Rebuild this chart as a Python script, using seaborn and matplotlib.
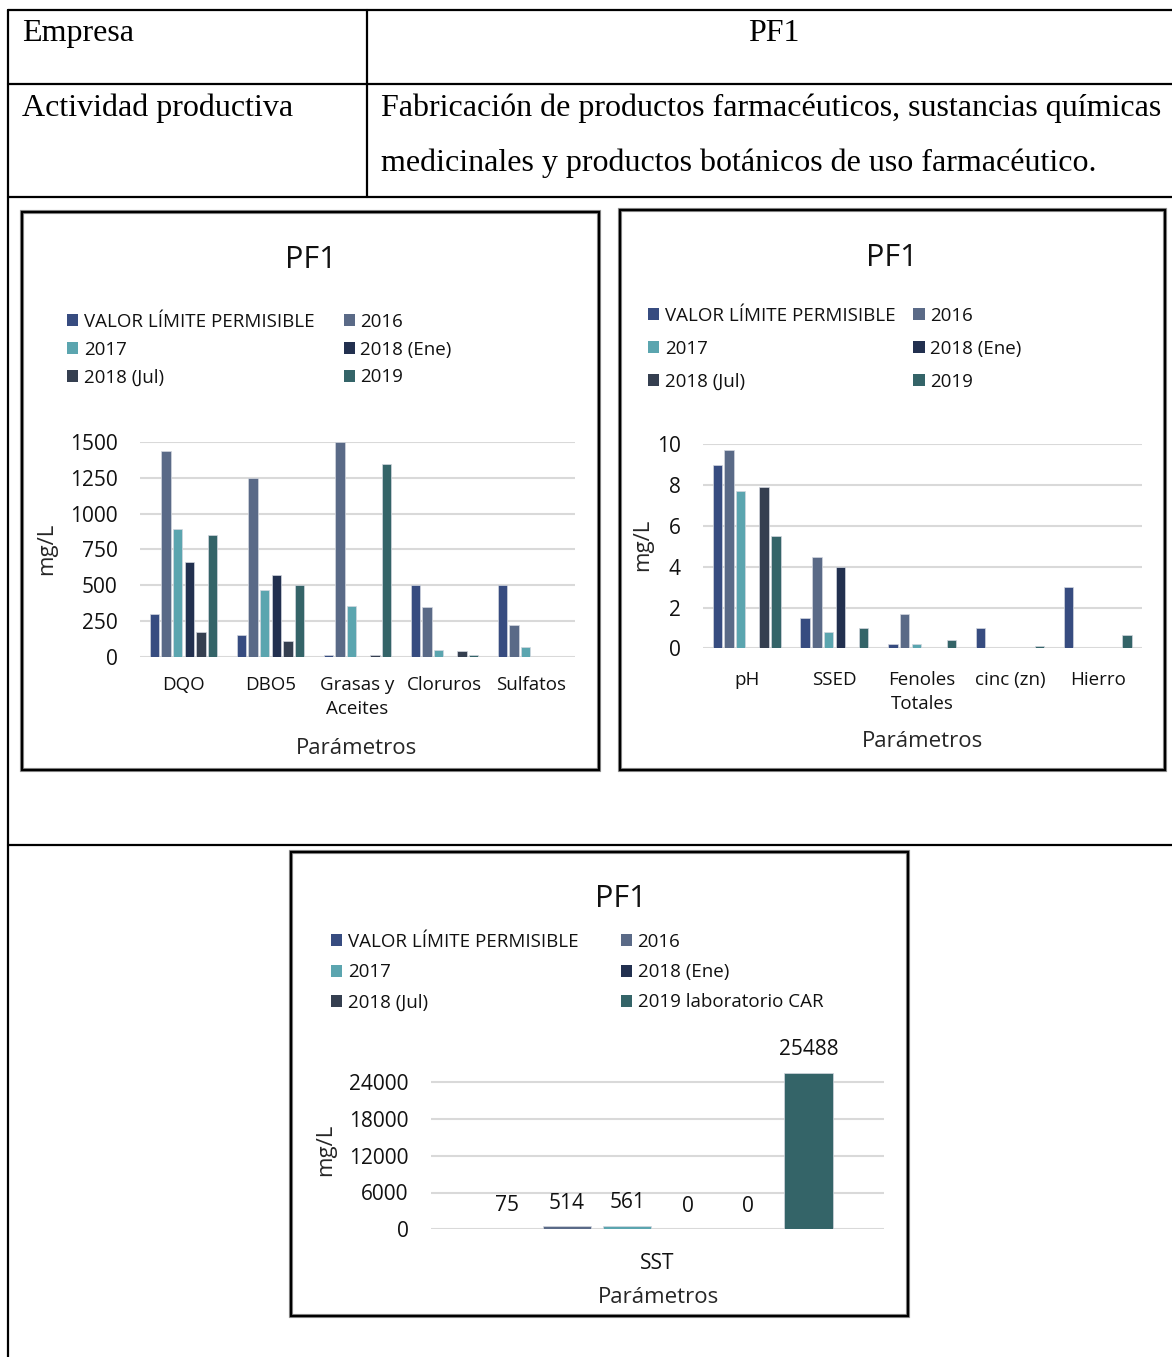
import numpy as np
import pandas as pd
import matplotlib
matplotlib.use("Agg")
import matplotlib.pyplot as plt
from matplotlib.patches import Rectangle, Patch
from matplotlib.lines import Line2D
import seaborn as sns

# ---------------- data ----------------
series = ["VALOR LÍMITE PERMISIBLE", "2016", "2017", "2018 (Ene)", "2018 (Jul)", "2019"]
series_sst = ["VALOR LÍMITE PERMISIBLE", "2016", "2017", "2018 (Ene)", "2018 (Jul)",
              "2019 laboratorio CAR"]
colors = ["#374C80", "#5A6A87", "#5BA5AF", "#22304F", "#353F50", "#346468"]

params_a = ["DQO", "DBO5", "Grasas y\nAceites", "Cloruros", "Sulfatos"]
vlp_a = [300, 150, 10, 500, 500]
y2016_a = [1437, 1250, 1500, 348, 222]
y2017_a = [890, 467, 352, 49, 68]
ene2018_a = [665, 569, 0, 0, 0]
jul2018_a = [170, 107, 10, 37, 0]
y2019_a = [849, 504, 1349, 12, 0]

params_b = ["pH", "SSED", "Fenoles\nTotales", "cinc (zn)", "Hierro"]
vlp_b = [9.0, 1.5, 0.2, 1.0, 3.0]
y2016_b = [9.7, 4.5, 1.7, 0, 0]
y2017_b = [7.7, 0.8, 0.2, 0, 0]
ene2018_b = [0, 4.0, 0, 0, 0]
jul2018_b = [7.9, 0, 0, 0, 0]
y2019_b = [5.5, 1.0, 0.4, 0.1, 0.65]

params_c = ["SST"]
sst_vals = [75, 514, 561, 0, 0, 25488]

yticks_a = [0, 250, 500, 750, 1000, 1250, 1500]
yticks_b = [0, 2, 4, 6, 8, 10]
yticks_c = [0, 6000, 12000, 18000, 24000]


def long_table(params, names, columns):
    rows = []
    for name, vals in zip(names, columns):
        for p, v in zip(params, vals):
            rows.append({"param": p, "serie": name, "valor": v})
    return pd.DataFrame(rows)


df_a = long_table(params_a, series, [vlp_a, y2016_a, y2017_a, ene2018_a, jul2018_a, y2019_a])
df_b = long_table(params_b, series, [vlp_b, y2016_b, y2017_b, ene2018_b, jul2018_b, y2019_b])
df_c = long_table(params_c, series_sst, [[v] for v in sst_vals])

# ---------------- style ----------------
sns.set_style("white")
plt.rcParams["font.family"] = ["Open Sans", "DejaVu Sans"]
plt.rcParams["text.color"] = "#111111"
plt.rcParams["xtick.color"] = "#111111"
plt.rcParams["ytick.color"] = "#111111"

W, H = 1172, 1357
fig = plt.figure(figsize=(W / 100, H / 100), dpi=100)


def fx(px):
    return px / W


def fy(py):
    return 1 - py / H


def hline(x0, x1, y, lw=1.6):
    fig.add_artist(Line2D([fx(x0), fx(x1)], [fy(y), fy(y)], color="black", lw=lw,
                          transform=fig.transFigure))


def vline(x, y0, y1, lw=1.6):
    fig.add_artist(Line2D([fx(x), fx(x)], [fy(y0), fy(y1)], color="black", lw=lw,
                          transform=fig.transFigure))


def frame(x0, y0, x1, y1):
    for lw, col in [(3.0, "#9a9a9a"), (1.7, "black")]:
        fig.add_artist(Rectangle((fx(x0), fy(y1)), fx(x1) - fx(x0), fy(y0) - fy(y1),
                                 transform=fig.transFigure, fill=False, ec=col, lw=lw))


# ---------------- table ----------------
hline(8, 1172, 10)
hline(8, 1172, 84)
hline(8, 1172, 197)
hline(8, 1172, 845)
vline(8, 10, 1357)
vline(367, 10, 197)

serif = dict(family=["Liberation Serif", "DejaVu Serif"], fontsize=23, color="black")
fig.text(fx(22), fy(41), "Empresa", ha="left", va="baseline", **serif)
fig.text(fx(774), fy(41), "PF1", ha="center", va="baseline", **serif)
fig.text(fx(22), fy(116), "Actividad productiva", ha="left", va="baseline", **serif)
fig.text(fx(381), fy(116), "Fabricación de productos farmacéuticos, sustancias químicas",
         ha="left", va="baseline", **serif)
fig.text(fx(381), fy(171), "medicinales y productos botánicos de uso farmacéutico.",
         ha="left", va="baseline", **serif)

# ---------------- chart frames ----------------
frame(22, 212, 599, 770)
frame(620, 210, 1165, 770)
frame(291, 852, 908, 1316)


def make_axes(left, right, top, bottom):
    return fig.add_axes([fx(left), fy(bottom), fx(right) - fx(left), fy(top) - fy(bottom)])


def draw_panel(ax, df, order, hue_order, ylim, yticks, tick_fs, cat_fs, cat_pad):
    pal = dict(zip(hue_order, colors))
    sns.barplot(data=df, x="param", y="valor", hue="serie", order=order, hue_order=hue_order,
                palette=pal, errorbar=None, width=0.8, gap=0.2, legend=False, ax=ax,
                edgecolor="#d3d7df", linewidth=0.5, saturation=1)
    ax.set_ylim(*ylim)
    ax.set_yticks(yticks)
    ax.set_xlim(-0.5, len(order) - 0.5)
    ax.set_axisbelow(True)
    ax.yaxis.grid(True, color="#d9d9d9", linewidth=1.5)
    ax.xaxis.grid(False)
    for s in ax.spines.values():
        s.set_visible(False)
    ax.tick_params(axis="y", length=0, pad=16, labelsize=tick_fs)
    ax.tick_params(axis="x", length=0, pad=cat_pad, labelsize=cat_fs)
    for lab in ax.get_xticklabels():
        lab.set_linespacing(1.45)
    ax.set_xlabel("Parámetros", fontsize=16)
    ax.set_ylabel("mg/L", fontsize=16)
    ax.xaxis.label.set_va("center")
    ax.yaxis.label.set_va("center")


def add_legend(names, x_sq, y_top, colspace, labspace):
    handles = [Patch(facecolor=c, edgecolor="none") for c in colors]
    idx = [0, 2, 4, 1, 3, 5]
    fig.legend([handles[i] for i in idx], [names[i] for i in idx], ncol=2,
               loc="upper left", bbox_to_anchor=(fx(x_sq), fy(y_top)),
               bbox_transform=fig.transFigure, frameon=False, fontsize=13.5,
               handlelength=0.6, handleheight=0.6, handletextpad=0.3,
               columnspacing=colspace, labelspacing=labspace,
               borderpad=0, borderaxespad=0)


# ---------------- chart A ----------------
ax1 = make_axes(140, 575, 442, 656.7)
draw_panel(ax1, df_a, params_a, series, (0, 1500), yticks_a, 15, 13.5, 14)
ax1.xaxis.set_label_coords((357 - 140) / 435, (656.7 - 749) / 214.7)
ax1.yaxis.set_label_coords((47 - 140) / 435, (656.7 - 549) / 214.7)
fig.text(fx(311), fy(260), "PF1", ha="center", va="center", fontsize=22)
add_legend(series, 67, 313, 1.55, 0.52)

# ---------------- chart B ----------------
ax2 = make_axes(702.7, 1141.7, 444.3, 648.3)
draw_panel(ax2, df_b, params_b, series, (0, 10), yticks_b, 15, 13.5, 16)
ax2.xaxis.set_label_coords((922 - 702.7) / 439, (648.3 - 741) / 204)
ax2.yaxis.set_label_coords((643 - 702.7) / 439, (648.3 - 545) / 204)
fig.text(fx(892), fy(258), "PF1", ha="center", va="center", fontsize=22)
add_legend(series, 648, 307, 0.95, 0.8)

# ---------------- chart C ----------------
ax3 = make_axes(431, 884, 1072.9, 1229.3)
draw_panel(ax3, df_c, params_c, series_sst, (0, 25500), yticks_c, 15, 15, 17)
ax3.xaxis.set_label_coords((658 - 431) / 453, (1229.3 - 1298) / 156.4)
ax3.yaxis.set_label_coords((326 - 431) / 453, (1229.3 - 1150) / 156.4)
for cont in ax3.containers:
    ax3.bar_label(cont, fmt="{:.0f}", padding=9, fontsize=15)
fig.text(fx(621), fy(899), "PF1", ha="center", va="center", fontsize=22)
add_legend(series_sst, 331, 933, 2.25, 0.65)

fig.savefig("out.png", dpi=100, facecolor="white")
